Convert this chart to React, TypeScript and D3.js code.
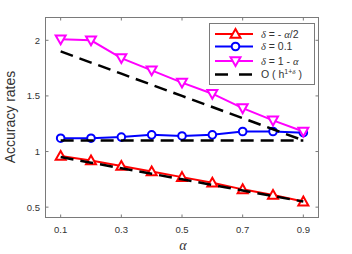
import React from "react";
import * as d3 from "d3";

const alphas = [0.1, 0.2, 0.3, 0.4, 0.5, 0.6, 0.7, 0.8, 0.9];
const redVals = [0.96, 0.92, 0.87, 0.82, 0.77, 0.72, 0.66, 0.61, 0.55];
const blueVals = [1.12, 1.12, 1.13, 1.15, 1.14, 1.15, 1.18, 1.18, 1.17];
const magentaVals = [2.01, 2.0, 1.84, 1.73, 1.62, 1.52, 1.39, 1.28, 1.18];
const refUpper = [1.9, 1.8, 1.7, 1.6, 1.5, 1.4, 1.3, 1.2, 1.1];
const refMiddle = [1.1, 1.1, 1.1, 1.1, 1.1, 1.1, 1.1, 1.1, 1.1];
const refLower = [0.95, 0.9, 0.85, 0.8, 0.75, 0.7, 0.65, 0.6, 0.55];
const xTicks = [0.1, 0.3, 0.5, 0.7, 0.9];
const yTicks = [0.5, 1, 1.5, 2];

const W = 352, H = 254;
const L = 45.5, R = 318.5, T = 17.5, B = 217.5;
const AXIS = "#7a7a7a";
const TXT = "#333";
const FONT = "'Liberation Sans', Arial, sans-serif";
const SERIF = "'Liberation Serif', serif";

const x = d3.scaleLinear().domain([0.05, 0.95]).range([L, R]);
const y = d3.scaleLinear().domain([0.407, 2.205]).range([B, T]);

const line = d3.line<number>().x((_, i) => x(alphas[i])).y((v) => y(v));

function triUp(cx: number, cy: number) {
  return `M${cx},${cy - 5}L${cx + 5},${cy + 3.8}L${cx - 5},${cy + 3.8}Z`;
}
function triDown(cx: number, cy: number) {
  return `M${cx},${cy + 5}L${cx + 5},${cy - 3.8}L${cx - 5},${cy - 3.8}Z`;
}

function Marker({ kind, cx, cy, color }: { kind: string; cx: number; cy: number; color: string }) {
  if (kind === "o") return <circle cx={cx} cy={cy} r={3.8} fill="#fff" stroke={color} strokeWidth={2} />;
  const d = kind === "^" ? triUp(cx, cy) : triDown(cx, cy);
  return <path d={d} fill="#fff" stroke={color} strokeWidth={2} strokeLinejoin="miter" />;
}

const series = [
  { vals: redVals, color: "#ff0000", kind: "^" },
  { vals: blueVals, color: "#0000ff", kind: "o" },
  { vals: magentaVals, color: "#ff00ff", kind: "v" },
];
const refs = [refUpper, refMiddle, refLower];

export default function App() {
  const legY = [34, 46.5, 61, 74.5];
  return (
    <svg width={W} height={H} style={{ position: "absolute", left: 0, top: 0, background: "#fff" }}>
      <rect x={0} y={0} width={W} height={H} fill="#fff" />
      <rect x={L} y={T} width={R - L} height={B - T} fill="#fff" stroke={AXIS} strokeWidth={1} />
      {xTicks.map((t) => (
        <g key={"x" + t}>
          <line x1={x(t)} x2={x(t)} y1={B} y2={B - 3} stroke={AXIS} />
          <line x1={x(t)} x2={x(t)} y1={T} y2={T + 3} stroke={AXIS} />
          <text x={x(t)} y={233} textAnchor="middle" fontSize={9.5} fontFamily={FONT} fill={TXT}>
            {t}
          </text>
        </g>
      ))}
      {yTicks.map((t) => (
        <g key={"y" + t}>
          <line x1={L} x2={L + 3} y1={y(t)} y2={y(t)} stroke={AXIS} />
          <line x1={R} x2={R - 3} y1={y(t)} y2={y(t)} stroke={AXIS} />
          <text x={40} y={y(t) + 3.5} textAnchor="end" fontSize={9.5} fontFamily={FONT} fill={TXT}>
            {t}
          </text>
        </g>
      ))}
      <text transform={`translate(15,117) rotate(-90)`} textAnchor="middle" fontSize={14} fontFamily={FONT} fill={TXT}>
        Accuracy rates
      </text>
      <text x={183} y={250} textAnchor="middle" fontSize={14} fontStyle="italic" fontFamily={SERIF} fill={TXT}>
        α
      </text>

      {series.map((s, si) => (
        <g key={"s" + si}>
          <path d={line(s.vals) || ""} fill="none" stroke={s.color} strokeWidth={2} />
          {s.vals.map((v, i) => (
            <Marker key={i} kind={s.kind} cx={x(alphas[i])} cy={y(v)} color={s.color} />
          ))}
        </g>
      ))}
      {refs.map((r, ri) => (
        <path key={"r" + ri} d={line(r) || ""} fill="none" stroke="#000" strokeWidth={2.5} strokeDasharray="13,7" />
      ))}

      <rect x={209.5} y={23.5} width={105} height={61} fill="#fff" stroke={AXIS} strokeWidth={1} />
      {series.map((s, i) => (
        <g key={"l" + i}>
          <line x1={215} x2={253} y1={legY[i]} y2={legY[i]} stroke={s.color} strokeWidth={2} />
          <Marker kind={s.kind} cx={235.5} cy={legY[i]} color={s.color} />
        </g>
      ))}
      <line x1={215} x2={253} y1={legY[3]} y2={legY[3]} stroke="#000" strokeWidth={2.5} strokeDasharray="13,11" />
      <g fontSize={10.5} fontFamily={FONT} fill={TXT} style={{ whiteSpace: "pre" }}>
        <text x={261} y={legY[0] + 3.5}>
          <tspan fontStyle="italic" fontFamily={SERIF}>δ</tspan>
          <tspan>{" = -  "}</tspan>
          <tspan fontStyle="italic" fontFamily={SERIF}>α</tspan>
          <tspan>/2</tspan>
        </text>
        <text x={261} y={legY[1] + 3.5}>
          <tspan fontStyle="italic" fontFamily={SERIF}>δ</tspan>
          <tspan>{" = 0.1"}</tspan>
        </text>
        <text x={261} y={legY[2] + 3.5}>
          <tspan fontStyle="italic" fontFamily={SERIF}>δ</tspan>
          <tspan>{" = 1 -  "}</tspan>
          <tspan fontStyle="italic" fontFamily={SERIF}>α</tspan>
        </text>
        <text x={261} y={legY[3] + 3.5}>
          <tspan>{"O ( h"}</tspan>
          <tspan fontSize={7} dy={-4}>1+</tspan>
          <tspan fontSize={7} fontStyle="italic" fontFamily={SERIF}>δ</tspan>
          <tspan dy={4}>{" )"}</tspan>
        </text>
      </g>
    </svg>
  );
}
